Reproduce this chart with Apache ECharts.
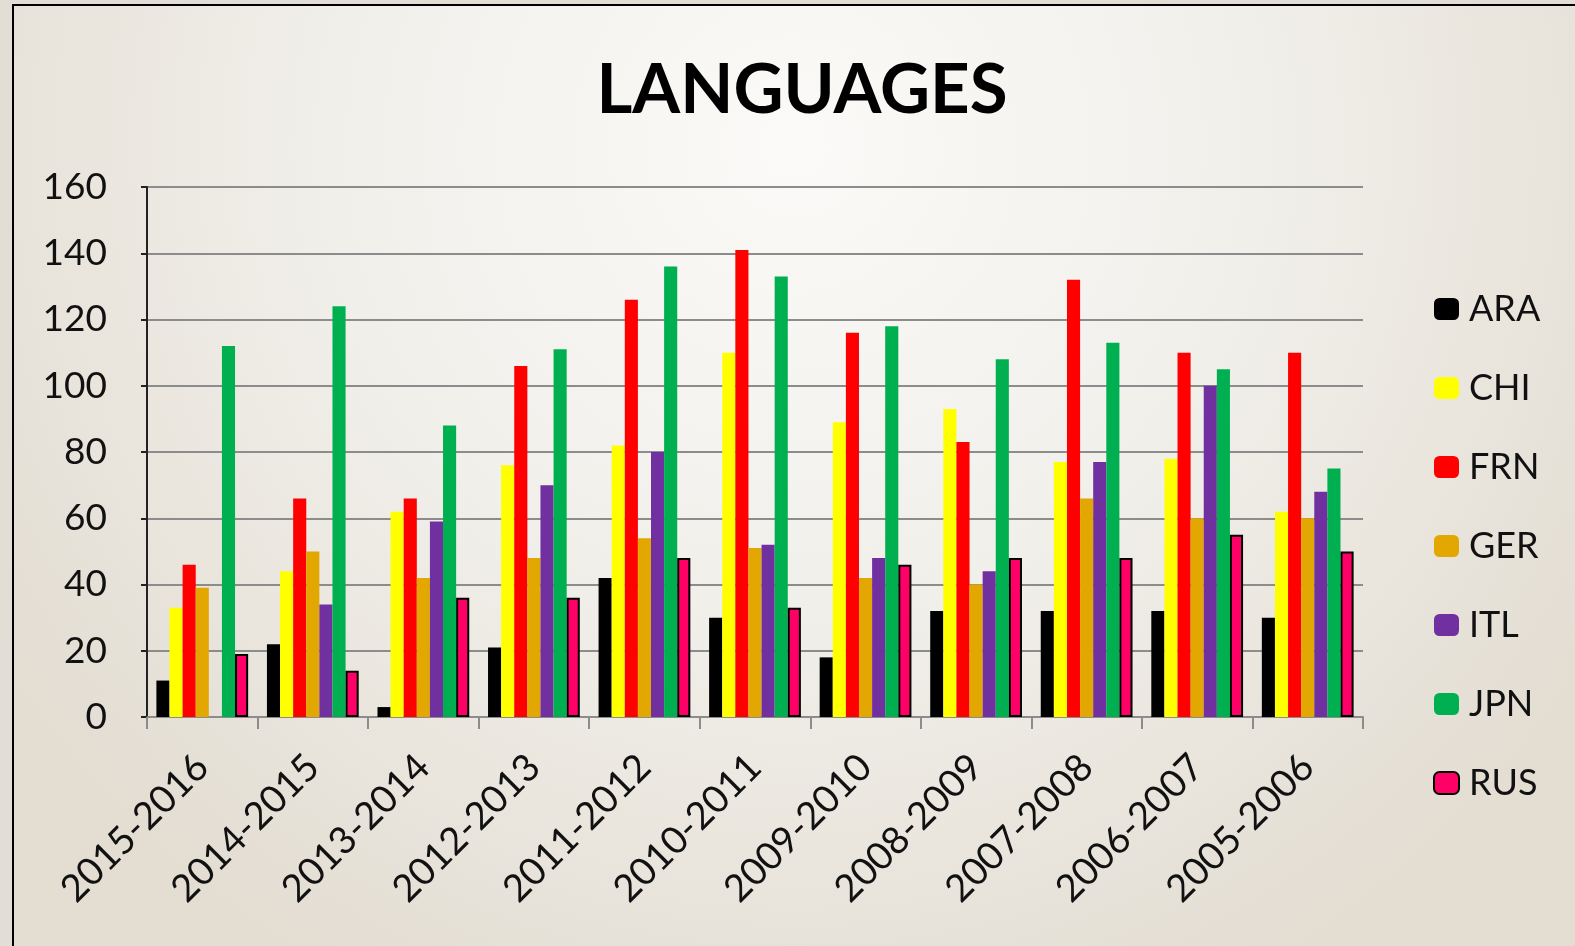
<!DOCTYPE html>
<html>
<head>
<meta charset="utf-8">
<script src="https://cdn.jsdelivr.net/npm/echarts@6/dist/echarts.min.js"></script>
<style>
html,body{margin:0;padding:0;background:#e3ded5;}
#chart{width:1575px;height:946px;}
</style>
</head>
<body>
<div id="chart"></div>
<script>
const categories = ['2015-2016','2014-2015','2013-2014','2012-2013','2011-2012','2010-2011','2009-2010','2008-2009','2007-2008','2006-2007','2005-2006'];
const ARA = [11,22,3,21,42,30,18,32,32,32,30];
const CHI = [33,44,62,76,82,110,89,93,77,78,62];
const FRN = [46,66,66,106,126,141,116,83,132,110,110];
const GER = [39,50,42,48,54,51,42,40,66,60,60];
const ITL = [0,34,59,70,80,52,48,44,77,100,68];
const JPN = [112,124,88,111,136,133,118,108,113,105,75];
const RUS = [19,14,36,36,48,33,46,48,48,55,50];
const yTicks = [0,20,40,60,80,100,120,140,160];

const seriesDefs = [
  {name:'ARA', data:ARA, color:'#000000'},
  {name:'CHI', data:CHI, color:'#FFFF00'},
  {name:'FRN', data:FRN, color:'#FF0000'},
  {name:'GER', data:GER, color:'#E2A700'},
  {name:'ITL', data:ITL, color:'#7030A0'},
  {name:'JPN', data:JPN, color:'#00B050'},
  {name:'RUS', data:RUS, color:'#FF0066', border:true}
];

const chart = echarts.init(document.getElementById('chart'), null, {renderer:'canvas'});
const FONT = 'Lato';
chart.setOption({
  animation:false,
  backgroundColor:'transparent',
  graphic:[
    {type:'rect', left:12, top:4, z:-10, silent:true,
     shape:{width:1563, height:942},
     style:{fill:new echarts.graphic.RadialGradient(0.5,0.15,1.0,[
        {offset:0,color:'#fbfaf8'},{offset:0.5,color:'#f1efea'},{offset:1,color:'#e3ddd2'}]),
        stroke:'#000', lineWidth:2}}
  ],
  title:{text:'LANGUAGES', left:797, top:51, textAlign:'center',
    textStyle:{fontFamily:FONT, fontWeight:'bold', fontSize:69, color:'#000'}},
  legend:{orient:'vertical', left:1428, top:284, itemWidth:25, itemHeight:22, itemGap:39,
    textStyle:{fontFamily:FONT, fontSize:36, color:'#111', lineHeight:40, padding:[0,0,0,5]},
    data:seriesDefs.map(s=>s.name)},
  grid:{left:147, right:212, top:187, bottom:229},
  xAxis:{type:'category', data:categories,
    axisLine:{lineStyle:{color:'#8c8c8c', width:2}},
    axisTick:{show:true, length:12, lineStyle:{color:'#8c8c8c', width:2}},
    axisLabel:{rotate:45, margin:44, fontFamily:FONT, fontSize:38, color:'#111'}},
  yAxis:{type:'value', min:0, max:160, interval:20,
    axisLine:{show:true, lineStyle:{color:'#222', width:2}},
    axisTick:{show:true, length:6, lineStyle:{color:'#222', width:2}},
    splitLine:{lineStyle:{color:'#8c8c8c', width:2}},
    axisLabel:{margin:40, fontFamily:FONT, fontSize:37, color:'#111',
      formatter:v=>yTicks.includes(v)?String(v):''}},
  series:seriesDefs.map(s=>({
    name:s.name, type:'bar', data:s.data,
    barGap:'0%', barCategoryGap:'17%',
    itemStyle:{color:s.color, borderColor:s.border?'#000':s.color, borderWidth:s.border?2:0}
  }))
});
</script>
</body>
</html>
